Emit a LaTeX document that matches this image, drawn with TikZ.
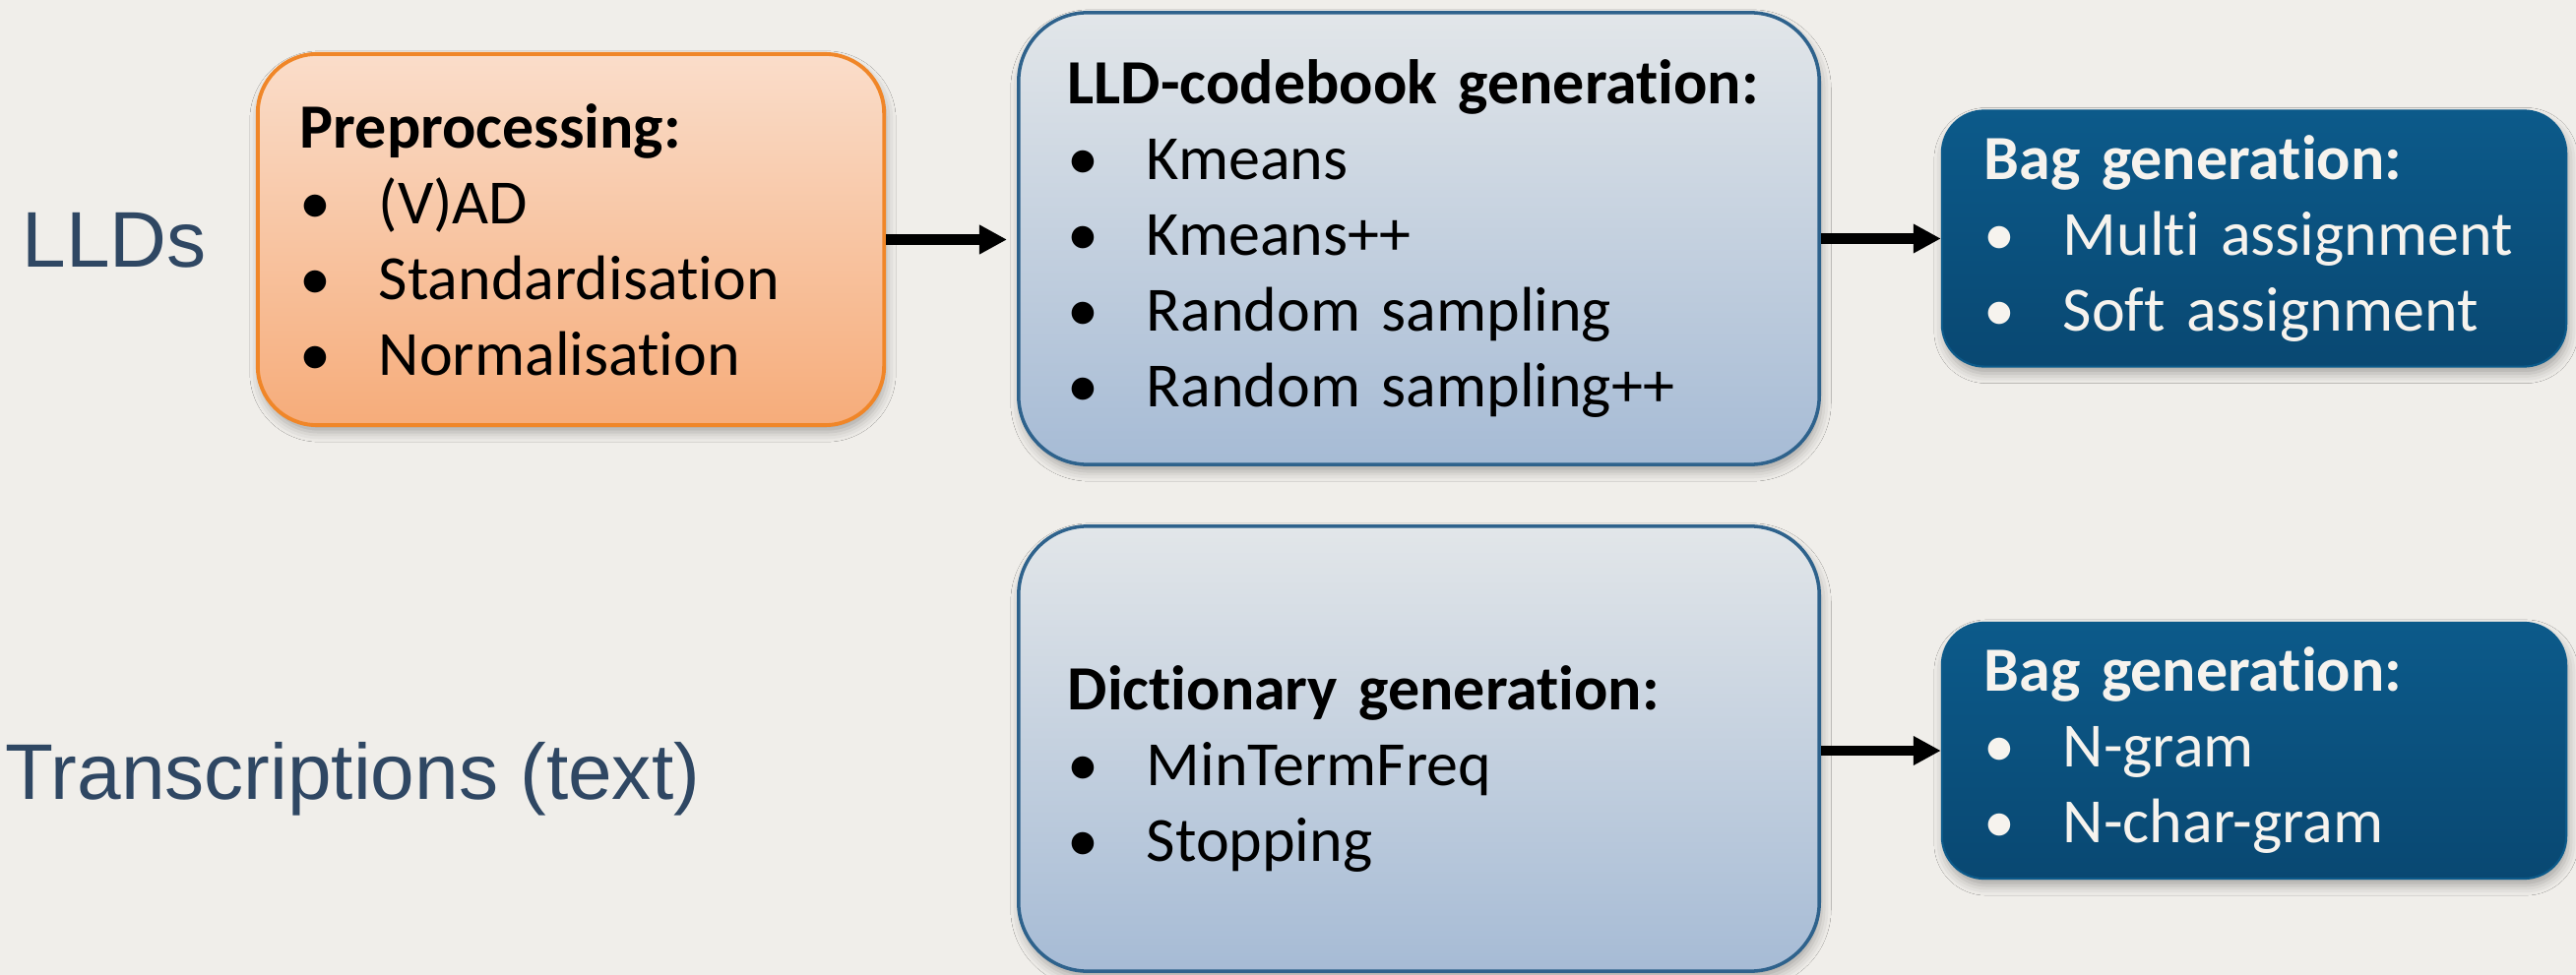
\documentclass[tikz,border=0pt]{standalone}
\usepackage{fontspec}
\setmainfont{Carlito}[Ligatures=NoCommon]
\newfontfamily\labelfont{Liberation Sans}
\usetikzlibrary{arrows.meta,shadows.blur}

\definecolor{paper}{RGB}{240,238,234}
\definecolor{peachtop}{RGB}{250,221,202}
\definecolor{peachbot}{RGB}{246,172,122}
\definecolor{orangeline}{RGB}{240,134,40}
\definecolor{steeltop}{RGB}{226,230,233}
\definecolor{steelbot}{RGB}{166,187,213}
\definecolor{steelline}{RGB}{46,98,140}
\definecolor{navytop}{RGB}{12,90,138}
\definecolor{navybot}{RGB}{9,72,114}
\definecolor{slate}{RGB}{47,71,99}
\definecolor{offwhite}{RGB}{246,243,238}

\newcommand\itm[1]{\makebox[0.8cm][l]{\textbullet}#1}

\tikzset{
  panel/.style={rounded corners=#1, inner xsep=0pt, inner ysep=0pt, align=left,
    font=\fontsize{18.2pt}{21.9pt}\selectfont,
    blur shadow={shadow xshift=0.02cm, shadow yshift=-0.07cm,
      shadow blur radius=0.1cm, shadow opacity=30}},
  prebox/.style={panel=0.6cm, draw=orangeline, line width=1.1pt,
    top color=peachtop, bottom color=peachbot,
    minimum width=6.36cm, minimum height=3.77cm, text width=5.5cm},
  genbox/.style={panel=0.7cm, draw=steelline, line width=1pt,
    top color=steeltop, bottom color=steelbot,
    minimum width=8.13cm, text width=7.13cm},
  bagbox/.style={panel=0.43cm, draw=navytop, line width=0.6pt,
    top color=navytop, bottom color=navybot, text=offwhite,
    minimum width=6.34cm, minimum height=2.6cm, text width=5.48cm},
  sidelabel/.style={inner sep=0pt, anchor=base west, text=slate,
    font=\labelfont\fontsize{22.8pt}{27pt}\selectfont},
  flow/.style={line width=3pt, -{Triangle[length=0.28cm,width=0.28cm]}}
}

\begin{document}
\begin{tikzpicture}[x=0.01cm,y=-0.01cm]
  \useasboundingbox (0,0) rectangle (2617,991);
  \fill[paper] (0,0) rectangle (2617,991);

  % input labels
  \node[sidelabel] (lld) at (22,272) {LLDs};
  \node[sidelabel] (txt) at (5,812) {Transcriptions (text)};

  % acoustic branch
  \node[prebox] (pre) at (580,243.5)
    {\textbf{Preprocessing:}\\\itm{(V)AD}\\\itm{Standardisation}\\\itm{Normalisation}};
  \node[genbox, minimum height=4.59cm] (cb) at (1441.5,242.5)
    {\textbf{LLD-codebook generation:}\\\itm{Kmeans}\\\itm{Kmeans++}\\\itm{Random sampling}\\\itm{Random sampling++}};
  \node[bagbox] (bagA) at (2290,242.5)
    {\textbf{Bag generation:}\\\itm{Multi assignment}\\\itm{Soft assignment}};

  % text branch
  \node[genbox, minimum height=4.52cm] (dict) at (1441.5,761)
    {\textbf{\rule{0pt}{0.86cm}Dictionary generation:}\\\itm{MinTermFreq}\\\itm{Stopping}};
  \node[bagbox] (bagB) at (2290,763)
    {\textbf{Bag generation:}\\\itm{N-gram}\\\itm{N-char-gram}};

  % connectors
  \draw[flow, shorten >=0.1cm] (pre.east) -- (cb.west |- pre.east);
  \draw[flow] (cb.east) -- (bagA.west |- cb.east);
  \draw[flow] (dict.east |- bagB.west) -- (bagB.west);
\end{tikzpicture}
\end{document}
